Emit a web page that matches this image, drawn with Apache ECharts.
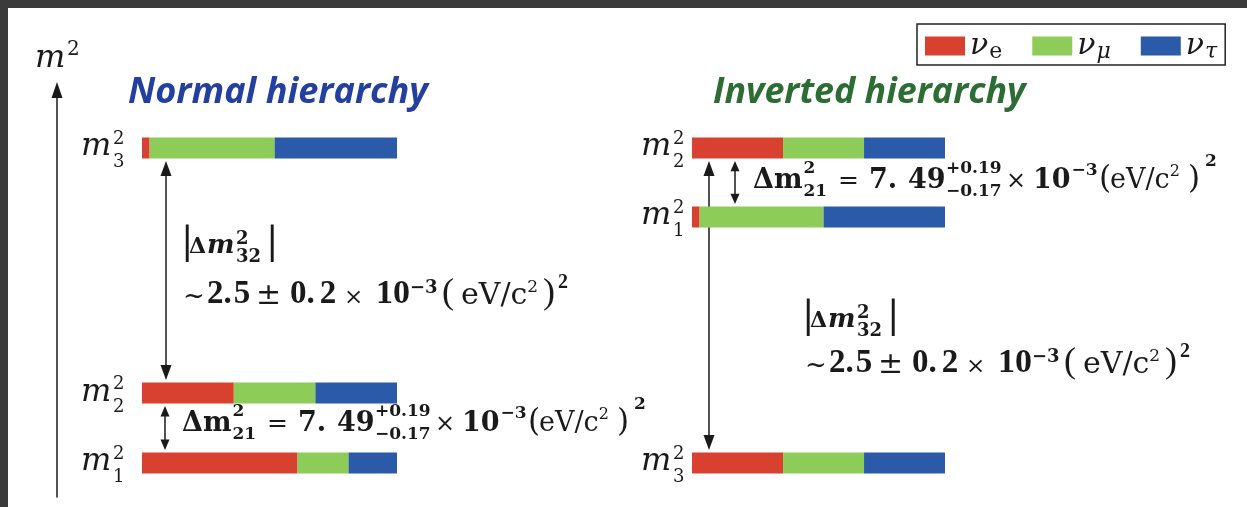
<!DOCTYPE html>
<html><head><meta charset="utf-8">
<script src="https://cdn.jsdelivr.net/npm/echarts@6/dist/echarts.min.js"></script>
<style>
html,body{margin:0;padding:0;background:#fff;}
#chart{position:absolute;left:0;top:0;width:1247px;height:507px;}
.frame{position:absolute;background:#3b3b3b;z-index:10;}
</style></head><body>
<div id="chart"></div>
<div class="frame" style="left:0;top:0;width:1247px;height:8px"></div>
<div class="frame" style="left:0;top:0;width:8px;height:507px"></div>
<script>
// ---------------- data ----------------
const flavors = ['νe', 'νμ', 'ντ'];
const massStates = ['1', '2', '3'];
// flavour content of m1, m2, m3 (fraction of each bar)
const normalNuE     = [0.61, 0.36, 0.03];
const normalNuMu    = [0.20, 0.32, 0.49];
const normalNuTau   = [0.19, 0.32, 0.48];
const invertedNuE   = [0.03, 0.36, 0.36];
const invertedNuMu  = [0.49, 0.32, 0.32];
const invertedNuTau = [0.48, 0.32, 0.32];
// schematic m² level of m1, m2, m3 (not to scale)
const normalLevel   = [0, 0.222, 1];
const invertedLevel = [0.781, 1, 0];
// mass splittings drawn as double arrows: [upper state index, lower state index]
const normalSplits   = [[2, 1], [1, 0]];
const invertedSplits = [[1, 2], [1, 0]];
const titles = ['Normal hierarchy', 'Inverted hierarchy'];

// ---------------- style ----------------
const COLORS = ['#d8412f', '#8dcc58', '#2b5aa9'];
const TITLE_COLORS = ['#2340a0', '#2c6d33'];
const TEXT = '#1a1a1a';
const SERIF = "'Liberation Serif', serif";
const MATH = "'DejaVu Serif', serif";
const MID = 0.34;
const BAR_H = 21;
const LABEL_OFF = [{ m: -61, s: -29 }, { m: -51, s: -19 }];
const ARROW_DX = [[24, 23], [17, 43]];

const mctx = document.createElement('canvas').getContext('2d');
function fontOf(p) { return (p.it ? 'italic ' : '') + (p.b ? 'bold ' : '') + p.s + 'px ' + (p.fam || SERIF); }
function measure(text, p) { mctx.font = fontOf(p); return mctx.measureText(text).width; }
function txt(x, base, text, p, color) {
  return { type: 'text', x: x, y: base - MID * p.s, silent: true,
    style: { text: text, font: fontOf(p), fill: color || TEXT, align: 'left', verticalAlign: 'middle',
             textAlign: 'left', textVerticalAlign: 'middle' } };
}
function formula(x0, base, pieces) {
  const out = []; let x = x0;
  pieces.forEach(p => {
    if (p.ax != null) x = x0 + p.ax; else x += (p.gap || 0);
    if (p.stack) {
      out.push(txt(x, base + p.up, p.stack[0], p));
      out.push(txt(x, base + p.down, p.stack[1], p));
      x += Math.max(measure(p.stack[0], p), measure(p.stack[1], p));
    } else {
      out.push(txt(x, base + (p.dy || 0), p.t, p));
      x += measure(p.t, p);
    }
  });
  return out;
}
const B = s => ({ s: s, b: true });
const R = s => ({ s: s });
const DB = s => ({ s: s, b: true, fam: MATH });
const DR = s => ({ s: s, fam: MATH });
const P = (o, f) => Object.assign(o, f);

const DM21 = [
  P({ t: 'Δm' }, DB(27)),
  P({ stack: ['2', '21'], up: -16, down: 7, gap: 1 }, DB(17)),
  P({ t: '=', ax: 85 }, DR(25)),
  P({ t: '7.', ax: 116 }, DB(27)),
  P({ t: '49', ax: 155 }, DB(27)),
  P({ stack: ['+0.19', '−0.17'], up: -16, down: 7, ax: 193 }, DB(17)),
  P({ t: '×', ax: 253 }, DR(24)),
  P({ t: '10', ax: 280 }, DB(27)),
  P({ t: '−3', dy: -14, gap: 1 }, DB(17)),
  P({ t: '(', dy: 0, ax: 346 }, DR(31)),
  P({ t: 'eV/c', ax: 357 }, DR(27)),
  P({ t: '2', dy: -13 }, DR(16)),
  P({ t: ')', dy: 0, ax: 435 }, DR(31)),
  P({ t: '2', dy: -23, ax: 452 }, DB(17))
];
const DM32a = [
  P({ t: '|', dy: 1, ax: -4 }, DR(37)),
  P({ t: 'Δ', ax: 4 }, DB(22)),
  P({ t: 'm', it: true, gap: 1 }, DB(26)),
  P({ stack: ['2', '32'], up: -10, down: 8, ax: 51 }, DB(18)),
  P({ t: '|', dy: 1, ax: 81 }, DR(37))
];
const DM32b = [
  P({ t: '~', dy: 0 }, DR(26)),
  P({ t: '2.', ax: 24 }, B(33)),
  P({ t: '5', gap: 2 }, B(33)),
  P({ t: '±', ax: 73 }, DR(30)),
  P({ t: '0.', ax: 107 }, B(33)),
  P({ t: '2', gap: 5 }, B(33)),
  P({ t: '×', ax: 161 }, DR(23)),
  P({ t: '10', ax: 193 }, B(34)),
  P({ t: '−3', dy: -12 }, DB(18)),
  P({ t: '(', ax: 259 }, R(36)),
  P({ t: 'eV/c', ax: 278 }, DR(30)),
  P({ t: '2', dy: -13 }, DR(17)),
  P({ t: ')', ax: 360 }, R(36)),
  P({ t: '2', dy: -16, ax: 375 }, B(20))
];

// ---------------- series ----------------
const panels = [
  { level: normalLevel, fr: [normalNuE, normalNuMu, normalNuTau], splits: normalSplits },
  { level: invertedLevel, fr: [invertedNuE, invertedNuMu, invertedNuTau], splits: invertedSplits }
];
const series = [];
panels.forEach((pn, pi) => {
  flavors.forEach((fl, k) => {
    const data = pn.level.map((y, i) => {
      let s = 0; for (let j = 0; j < k; j++) s += pn.fr[j][i];
      return [s, s + pn.fr[k][i], y];
    });
    series.push({
      type: 'custom', name: fl, xAxisIndex: pi, yAxisIndex: pi, z: 3, silent: true,
      itemStyle: { color: COLORS[k] }, encode: { x: [0, 1], y: 2 }, data: data,
      renderItem: function (params, api) {
        const a = api.coord([api.value(0), api.value(2)]);
        const b = api.coord([api.value(1), api.value(2)]);
        return { type: 'rect', shape: { x: a[0], y: a[1] - BAR_H / 2, width: b[0] - a[0], height: BAR_H },
                 style: { fill: COLORS[k] } };
      }
    });
  });
  // level labels m_i^2
  series.push({
    type: 'custom', name: 'labels' + pi, xAxisIndex: pi, yAxisIndex: pi, z: 4, silent: true,
    encode: { x: 0, y: 1 }, data: pn.level.map((y, i) => [0, y, i]),
    renderItem: function (params, api) {
      const c = api.coord([0, api.value(1)]);
      const o = LABEL_OFF[pi];
      const st = massStates[api.value(2)];
      return { type: 'group', children: [
        txt(c[0] + o.m, c[1] + 10, 'm', { s: 32, it: true, fam: MATH }),
        txt(c[0] + o.s, c[1] - 3, '2', { s: 18, fam: MATH }),
        txt(c[0] + o.s, c[1] + 20, st, { s: 18, fam: MATH })
      ] };
    }
  });
  // splitting arrows
  series.push({
    type: 'custom', name: 'splits' + pi, xAxisIndex: pi, yAxisIndex: pi, z: 2, silent: true,
    encode: { x: 0, y: [1, 2] }, data: pn.splits.map(s => [0, pn.level[s[0]], pn.level[s[1]]]),
    renderItem: function (params, api) {
      const a = api.coord([0, api.value(1)]);
      const b = api.coord([0, api.value(2)]);
      const x = a[0] + ARROW_DX[pi][params.dataIndex];
      const y1 = a[1] + BAR_H / 2 + 2.5, y2 = b[1] - BAR_H / 2 - 2.5;
      const hh = Math.min(15, (y2 - y1) * 0.24), hw = hh < 13 ? 4.5 : 5.5;
      return { type: 'group', children: [
        { type: 'line', shape: { x1: x, y1: y1 + hh - 2, x2: x, y2: y2 - hh + 2 }, style: { stroke: TEXT, lineWidth: 1.5 } },
        { type: 'polygon', shape: { points: [[x, y1], [x - hw, y1 + hh], [x + hw, y1 + hh]] }, style: { fill: TEXT } },
        { type: 'polygon', shape: { points: [[x, y2], [x - hw, y2 - hh], [x + hw, y2 - hh]] }, style: { fill: TEXT } }
      ] };
    }
  });
});

// titles fitted to the reference width
const TITLE_FAMILY = "'Open Sans', sans-serif";
const TITLE_FONT = { s: 30, it: true, b: true, fam: TITLE_FAMILY };
const titleBox = [{ left: 128, width: 300 }, { left: 713, width: 313 }];
const titleOpts = titles.map((t, i) => {
  const size = Math.round(30 * titleBox[i].width / measure(t, TITLE_FONT) * 10) / 10;
  return { text: t, left: titleBox[i].left, top: 107 - 0.89 * size, padding: 0,
    textStyle: { fontFamily: TITLE_FAMILY, fontStyle: 'italic', fontWeight: 'bold', fontSize: size, color: TITLE_COLORS[i] } };
});

const graphics = [].concat(
  [txt(35, 70, 'm', { s: 32, it: true, fam: MATH }), txt(67, 57, '2', { s: 20, fam: MATH })],
  formula(182, 433, DM21),
  formula(753, 190, DM21),
  formula(185, 255, DM32a),
  formula(183, 306, DM32b),
  formula(806, 329, DM32a),
  formula(805, 375, DM32b)
);

const hiddenX = i => ({ type: 'value', gridIndex: i, min: 0, max: 1, show: false });
const hiddenY = i => ({ type: 'value', gridIndex: i, min: 0, max: 1, show: false });

const option = {
  backgroundColor: 'transparent',
  animation: false,
  title: titleOpts,
  legend: {
    data: flavors, left: 917, top: 24, icon: 'rect', itemWidth: 40, itemHeight: 19, itemGap: 30,
    padding: [7, 8, 2, 8], borderColor: '#222', borderWidth: 1.5, borderRadius: 0, selectedMode: false,
    formatter: n => '{g|' + n[0] + '}{' + (n[1] === 'e' ? 'sr' : 'si') + '|' + n[1] + '}',
    textStyle: { color: TEXT, rich: {
      g: { fontFamily: MATH, fontStyle: 'italic', fontSize: 30, lineHeight: 34, color: TEXT },
      sr: { fontFamily: MATH, fontSize: 22, padding: [12, 0, 0, 1], color: TEXT },
      si: { fontFamily: MATH, fontStyle: 'italic', fontSize: 22, padding: [12, 0, 0, 1], color: TEXT }
    } }
  },
  grid: [
    { left: 142, width: 255, top: 148, height: 315, outerBoundsMode: 'none', containLabel: false },
    { left: 692, width: 253, top: 148, height: 315, outerBoundsMode: 'none', containLabel: false },
    { left: 57, width: 10, top: 90, bottom: 10, outerBoundsMode: 'none', containLabel: false }
  ],
  xAxis: [hiddenX(0), hiddenX(1), hiddenX(2)],
  yAxis: [hiddenY(0), hiddenY(1), {
    type: 'value', gridIndex: 2, min: 0, max: 1, position: 'left',
    axisLine: { show: true, onZero: false, symbol: ['none', 'triangle'], symbolSize: [11, 16],
                lineStyle: { color: TEXT, width: 1.5 } },
    axisTick: { show: false }, axisLabel: { show: false }, splitLine: { show: false }
  }],
  graphic: { elements: graphics },
  series: series
};
const chart = echarts.init(document.getElementById('chart'), null, { renderer: 'canvas' });
chart.setOption(option);
</script>
</body></html>
